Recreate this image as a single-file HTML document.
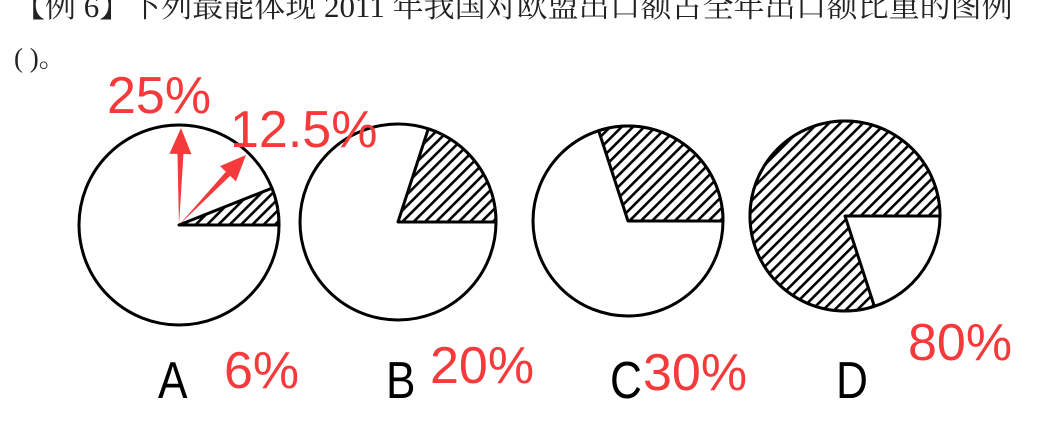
<!DOCTYPE html>
<html><head><meta charset="utf-8"><style>
html,body{margin:0;padding:0;background:#fff;width:1062px;height:435px;overflow:hidden;position:relative}
.t{position:absolute;font-family:"Liberation Serif","Noto Serif CJK SC",serif;font-size:31px;color:#222;white-space:nowrap;line-height:1}
.l{position:absolute;font-family:"Liberation Sans","DejaVu Sans",sans-serif;white-space:nowrap;line-height:1}
.k{color:#000;font-size:52px;transform:scaleX(0.85);transform-origin:left top}
.r{color:#f43a3a;font-size:52px;transform:scaleX(1.0);transform-origin:left top}
</style></head><body>
<div class="t" style="left:14px;top:-9px">【例 6】下列最能体现 2011 年我国对欧盟出口额占全年出口额比重的图例</div>
<div class="t" style="left:14px;top:45px;font-size:27px">( )。</div>
<svg id="c" width="1062" height="435" style="position:absolute;left:0;top:0">
<defs><pattern id="h" patternUnits="userSpaceOnUse" width="8" height="8" patternTransform="rotate(45)"><rect width="8" height="8" fill="#fff"/><rect width="2.6" height="8" fill="#000"/></pattern></defs>
</svg>
<div class="l k" style="left:158px;top:355px">A</div>
<div class="l k" style="left:386px;top:355px">B</div>
<div class="l k" style="left:610px;top:355px">C</div>
<div class="l k" style="left:836px;top:355px">D</div>
<div class="l r" style="left:224px;top:345px">6%</div>
<div class="l r" style="left:430px;top:340px">20%</div>
<div class="l r" style="left:643px;top:347px">30%</div>
<div class="l r" style="left:908px;top:317px">80%</div>
<div class="l r" style="left:107px;top:70px">25%</div>
<div class="l r" style="left:230px;top:104px">12.5%</div>
<script>
const options=["A","B","C","D"];
const shares=[6,20,30,80];
const cxs=[179,398,628,845], cys=[225,222,221,216], rs=[100,98,95,95];
const svg=document.getElementById('c');
const NS="http://www.w3.org/2000/svg";
function pt(cx,cy,r,pct){const a=pct/100*2*Math.PI;return [cx+r*Math.cos(a),cy-r*Math.sin(a)];}
for(let i=0;i<options.length;i++){
  const cx=cxs[i],cy=cys[i],r=rs[i],p=shares[i];
  const c=document.createElementNS(NS,'circle');
  c.setAttribute('cx',cx);c.setAttribute('cy',cy);c.setAttribute('r',r);
  c.setAttribute('fill','#fff');c.setAttribute('stroke','#000');c.setAttribute('stroke-width','3');
  
  
  svg.appendChild(c);
  const e=pt(cx,cy,r,p);const large=p>50?1:0;
  const s=document.createElementNS(NS,'path');
  s.setAttribute('d',`M${cx},${cy} L${cx+r},${cy} A${r},${r} 0 ${large} 0 ${e[0]},${e[1]} Z`);
  s.setAttribute('fill','url(#h)');s.setAttribute('stroke','#000');s.setAttribute('stroke-width','3');s.setAttribute('stroke-linejoin','round');
  
  
  svg.appendChild(s);
}
function arrow(x1,y1,x2,y2,name){
  const g=document.createElementNS(NS,'g');
  
  
  const dx=x2-x1,dy=y2-y1,L=Math.hypot(dx,dy),ux=dx/L,uy=dy/L,nx=-uy,ny=ux;
  const bx=x2-ux*26,by=y2-uy*26;
  const p=document.createElementNS(NS,'polygon');
  p.setAttribute('points',`${x1},${y1} ${bx+nx*3},${by+ny*3} ${bx+nx*11},${by+ny*11} ${x2},${y2} ${bx-nx*11},${by-ny*11} ${bx-nx*3},${by-ny*3}`);
  p.setAttribute('fill','#f43a3a');
  g.appendChild(p);svg.appendChild(g);
}
arrow(179,225,181,128,'arrow-25pct');
arrow(179,225,246,155,'arrow-12-5pct');
</script>
</body></html>
